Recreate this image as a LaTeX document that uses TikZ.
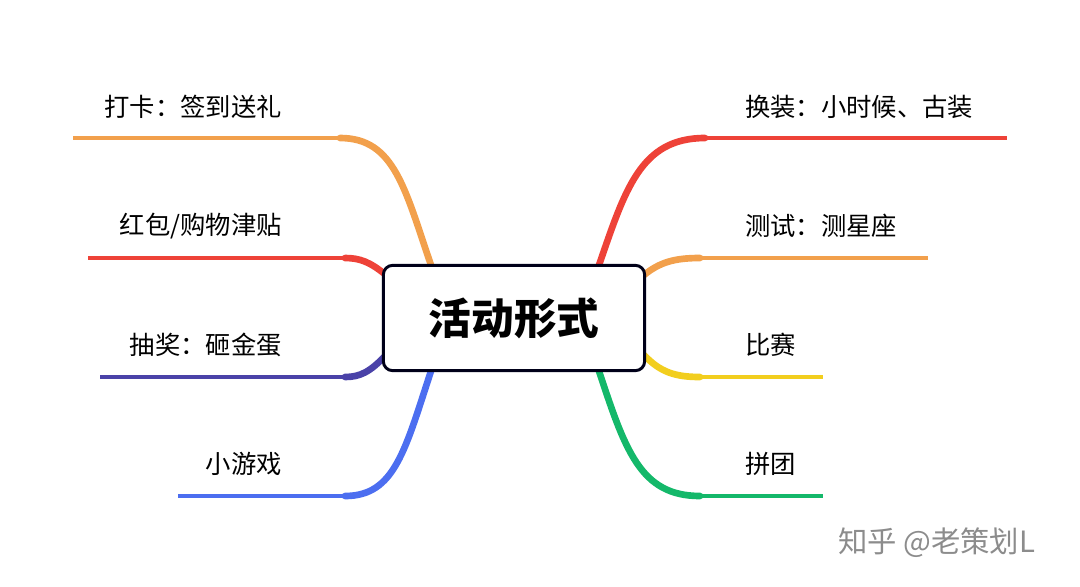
\documentclass[tikz,border=0pt]{standalone}
\usepackage{fontspec}
\newfontfamily\cjk{Noto Sans CJK SC}
\begin{document}
\begin{tikzpicture}[x=0.75pt,y=-0.75pt,
  lab/.style={font=\cjk\fontsize{19}{22}\selectfont,inner sep=0pt},
  thick br/.style={line width=5pt,line cap=round},
  thin br/.style={line width=2.6pt}]
\useasboundingbox (0,0) rectangle (1080,586);
\definecolor{cor}{HTML}{F2A04C}\definecolor{cre}{HTML}{EE4238}
\definecolor{cin}{HTML}{4A42A8}\definecolor{cbl}{HTML}{4C6EF0}
\definecolor{cye}{HTML}{F2CE1E}\definecolor{cgr}{HTML}{14B86A}
% coordinates
\coordinate (l1) at (73,138);\coordinate (j1) at (340,138);
\coordinate (l2) at (88,258);\coordinate (j2) at (345,258);
\coordinate (l3) at (100,377);\coordinate (j3) at (345,377);
\coordinate (l4) at (178,496);\coordinate (j4) at (345,496);
\coordinate (r1) at (1007,138);\coordinate (k1) at (705,138);
\coordinate (r2) at (928,258);\coordinate (k2) at (700,258);
\coordinate (r3) at (823,377);\coordinate (k3) at (700,377);
\coordinate (r4) at (823,496);\coordinate (k4) at (700,496);
% branches
\draw[thin br,cor] (j1)--(l1);
\draw[thick br,cor] (432,268) .. controls (405,190) and (395,138) .. (j1);
\draw[thin br,cre] (j2)--(l2);
\draw[thick br,cre] (386,275) .. controls (370,262) and (360,258) .. (j2);
\draw[thin br,cin] (j3)--(l3);
\draw[thick br,cin] (386,355) .. controls (370,372) and (360,377) .. (j3);
\draw[thin br,cbl] (j4)--(l4);
\draw[thick br,cbl] (432,368) .. controls (405,450) and (395,496) .. (j4);
\draw[thin br,cre] (k1)--(r1);
\draw[thick br,cre] (598,268) .. controls (625,190) and (640,138) .. (k1);
\draw[thin br,cor] (k2)--(r2);
\draw[thick br,cor] (644,275) .. controls (660,262) and (675,258) .. (k2);
\draw[thin br,cye] (k3)--(r3);
\draw[thick br,cye] (644,355) .. controls (660,372) and (675,377) .. (k3);
\draw[thin br,cgr] (k4)--(r4);
\draw[thick br,cgr] (598,368) .. controls (625,450) and (640,496) .. (k4);
% center
\node[draw=black!90!blue,line width=2.2pt,rounded corners=7pt,fill=white,
  minimum width=196pt,minimum height=79pt,
  font=\cjk\bfseries\fontsize{32}{36}\selectfont] (c) at (514,318) {活动形式};
% labels
\node[lab,anchor=east] (t1) at (282,107) {打卡：签到送礼};
\node[lab,anchor=east] (t2) at (282,226) {红包/购物津贴};
\node[lab,anchor=east] (t3) at (282,345) {抽奖：砸金蛋};
\node[lab,anchor=east] (t4) at (282,464) {小游戏};
\node[lab,anchor=west] (u1) at (745,107) {换装：小时候、古装};
\node[lab,anchor=west] (u2) at (745,226) {测试：测星座};
\node[lab,anchor=west] (u3) at (745,345) {比赛};
\node[lab,anchor=west] (u4) at (745,464) {拼团};
\node[font=\cjk\fontsize{22}{26}\selectfont,text=black!45,anchor=west,inner sep=0pt] (wm) at (838,543) {知乎 @老策划L};
\end{tikzpicture}
\end{document}
